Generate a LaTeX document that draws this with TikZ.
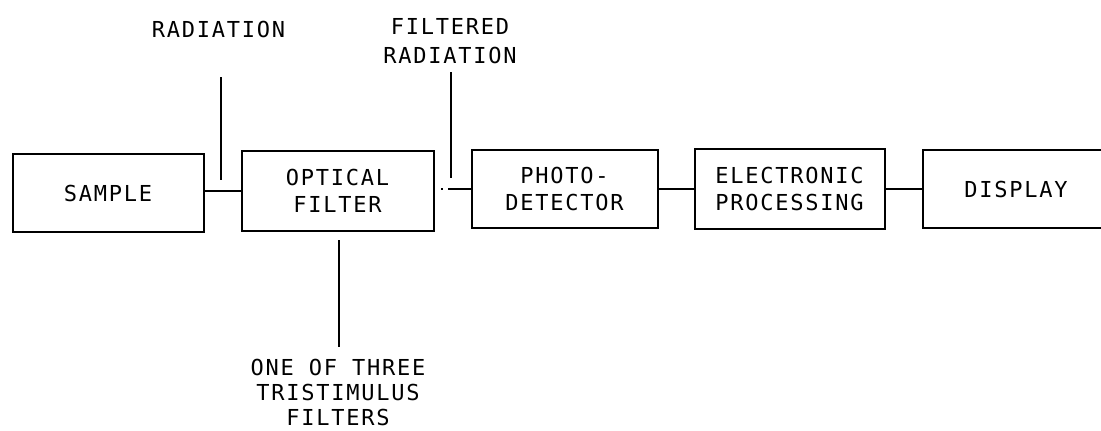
\documentclass[tikz,border=0pt]{standalone}
\usepackage{fontspec}
\newfontfamily\plotfont[LetterSpace=8]{DejaVu Sans Mono}
\newcommand\plotbox{\plotfont\fontsize{22}{27}\selectfont}
\newcommand\plottop{\plotfont\fontsize{22}{29}\selectfont}
\newcommand\plotbot{\plotfont\fontsize{22}{25}\selectfont}
\begin{document}
\begin{tikzpicture}[x=1pt,y=-1pt,
  blk/.style={draw, line width=2pt, inner sep=0pt, align=center, font=\plotbox},
  wire/.style={line width=2pt},
  lbltop/.style={align=center, inner sep=0pt, font=\plottop},
  lblbot/.style={align=center, inner sep=0pt, font=\plotbot}]
\useasboundingbox (0,0) rectangle (1101,431);
\fill[white] (0,0) rectangle (1101,431);
% blocks
\node[blk, minimum width=191pt, minimum height=78pt] (sample) at (108,193) {SAMPLE};
\node[blk, minimum width=192pt, minimum height=80pt] (filter) at (337.5,190.5) {OPTICAL\\FILTER};
\node[blk, minimum width=186pt, minimum height=78pt] (photo) at (564.5,189) {PHOTO-\\DETECTOR};
\node[blk, minimum width=190pt, minimum height=80pt] (elec) at (789.5,189) {ELECTRONIC\\PROCESSING};
\node[blk, minimum width=187pt, minimum height=78pt] (display) at (1016,189) {DISPLAY};
% connectors
\draw[wire] (filter.west -| sample.east) -- (filter.west);
\draw[wire, dash pattern=on 23pt off 5pt on 2pt off 20pt] (photo.west) -- (photo.west -| filter.east);
\draw[wire] (photo.east) -- (elec.west);
\draw[wire] (elec.east) -- (display.west);
% labels
\node[lbltop] (rad) at (218.5,29.7) {RADIATION};
\node[lbltop] (frad) at (450,41.5) {FILTERED\\RADIATION};
\node[lblbot] (tri) at (338,392) {ONE OF THREE\\TRISTIMULUS\\FILTERS};
\coordinate (radtop) at (221,77);
\coordinate (radbot) at (221,180);
\coordinate (fradtop) at (451,72);
\coordinate (fradbot) at (451,177.5);
\coordinate (tritop) at (339,240);
\coordinate (tribot) at (339,347);
\draw[wire] (radtop) -- (radbot);
\draw[wire] (fradtop) -- (fradbot);
\draw[wire] (tritop) -- (tribot);
\end{tikzpicture}
\end{document}
